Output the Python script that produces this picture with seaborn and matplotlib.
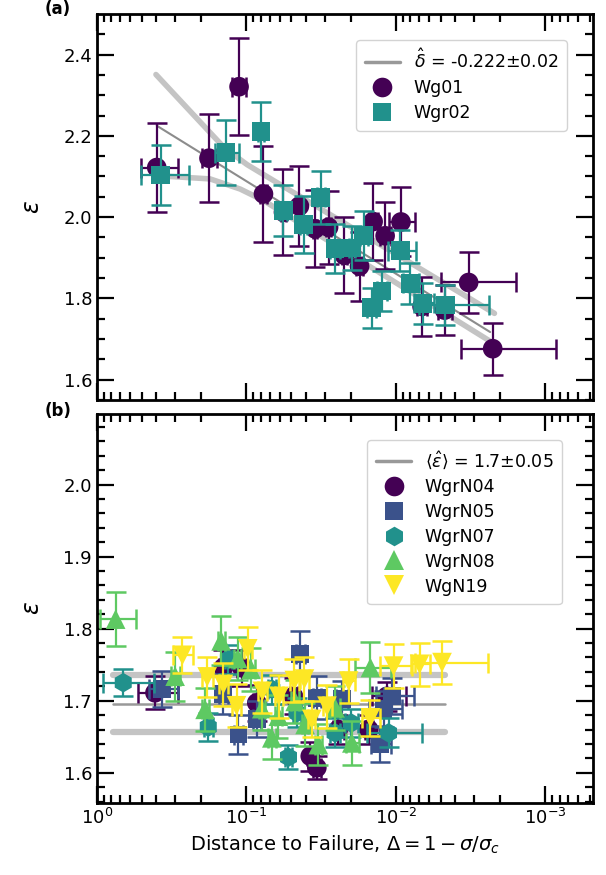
import numpy as np
import matplotlib
matplotlib.use("Agg")
import matplotlib.pyplot as plt
import seaborn as sns
from matplotlib.lines import Line2D

# ---------------- panel (a) data ----------------
wg01_d = [0.398, 0.178, 0.112, 0.0769, 0.0565, 0.0442, 0.0347, 0.0282, 0.0221,
          0.0175, 0.0142, 0.0118, 0.00924, 0.00668, 0.00472, 0.00326, 0.00225]
wg01_e = [2.122, 2.145, 2.321, 2.057, 2.012, 2.027, 1.971, 1.975, 1.906,
          1.879, 1.989, 1.954, 1.988, 1.780, 1.771, 1.839, 1.676]
wg01_xe = [0.11, 0.02, 0.012, 0.004, 0.002, 0.002, 0.001, 0.001, 0.001,
           0.001, 0.001, 0.001, 0.0018, 0.0005, 0.0005, 0.0017, 0.0014]
wg01_ye = [0.11, 0.108, 0.12, 0.118, 0.106, 0.098, 0.095, 0.09, 0.093,
           0.085, 0.094, 0.083, 0.085, 0.073, 0.062, 0.075, 0.064]

wgr02_d = [0.374, 0.137, 0.080, 0.0565, 0.0415, 0.0318, 0.0255, 0.0197,
           0.0164, 0.00935, 0.0124, 0.0145, 0.0080, 0.00659, 0.00467]
wgr02_e = [2.104, 2.159, 2.210, 2.016, 1.981, 2.049, 1.922, 1.924,
           1.954, 1.917, 1.818, 1.777, 1.837, 1.788, 1.784]
wgr02_xe = [0.13, 0.025, 0.004, 0.003, 0.002, 0.002, 0.002, 0.001,
            0.001, 0.002, 0.001, 0.001, 0.001, 0.001, 0.0023]
wgr02_ye = [0.074, 0.079, 0.073, 0.062, 0.07, 0.065, 0.06, 0.055,
            0.06, 0.05, 0.05, 0.049, 0.05, 0.05, 0.049]

# fit and its band
fit_d = [0.398, 0.00234]
fit_e = [2.225, 1.717]
band_hi_d = [0.403, 0.175, 0.140, 0.0988, 0.00219]
band_hi_e = [2.351, 2.208, 2.170, 2.129, 1.763]
band_lo_d = [0.398, 0.175, 0.110, 0.077, 0.00224]
band_lo_e = [2.102, 2.094, 2.069, 2.041, 1.690]

# ---------------- panel (b) data ----------------
n04_d = [0.409, 0.1426, 0.1074, 0.0852, 0.0484, 0.0374, 0.0338, 0.0243, 0.0152, 0.0115]
n04_e = [1.711, 1.746, 1.746, 1.697, 1.706, 1.623, 1.607, 1.660, 1.660, 1.706]
n04_xe = [0.12, 0.01, 0.008, 0.005, 0.003, 0.002, 0.002, 0.002, 0.001, 0.003]
n04_ye = [0.023, 0.025, 0.025, 0.025, 0.025, 0.02, 0.016, 0.02, 0.02, 0.02]

n05_d = [0.369, 0.1426, 0.113, 0.0852, 0.0437, 0.0338, 0.0230, 0.0127, 0.0121, 0.0106]
n05_e = [1.716, 1.709, 1.653, 1.674, 1.7645, 1.704, 1.702, 1.640, 1.688, 1.706]
n05_xe = [0.08, 0.01, 0.008, 0.005, 0.003, 0.002, 0.002, 0.002, 0.003, 0.003]
n05_ye = [0.025, 0.028, 0.027, 0.025, 0.032, 0.03, 0.025, 0.025, 0.025, 0.025]

n07_d = [0.667, 0.180, 0.132, 0.0676, 0.0523, 0.0459, 0.0255, 0.0199, 0.0112]
n07_e = [1.725, 1.6634, 1.7575, 1.716, 1.6216, 1.6832, 1.6553, 1.669, 1.6553]
n07_xe = [0.25, 0.012, 0.008, 0.004, 0.003, 0.003, 0.002, 0.002, 0.0045]
n07_ye = [0.019, 0.019, 0.02, 0.02, 0.017, 0.02, 0.02, 0.02, 0.02]

n08_d = [0.750, 0.300, 0.189, 0.1477, 0.1142, 0.0931, 0.0789, 0.0676,
         0.0611, 0.0472, 0.0405, 0.033, 0.0255, 0.0197, 0.0148]
n08_e = [1.8132, 1.734, 1.688, 1.783, 1.7585, 1.7436, 1.689, 1.6484,
         1.6785, 1.699, 1.667, 1.639, 1.690, 1.6414, 1.746]
n08_xe = [0.2, 0.02, 0.01, 0.008, 0.006, 0.005, 0.004, 0.004,
          0.003, 0.003, 0.002, 0.002, 0.002, 0.002, 0.004]
n08_ye = [0.037, 0.034, 0.03, 0.034, 0.03, 0.03, 0.03, 0.03,
          0.03, 0.03, 0.03, 0.028, 0.03, 0.03, 0.035]

n19_d = [0.268, 0.183, 0.1426, 0.1165, 0.098, 0.0782, 0.0606, 0.0478,
         0.0409, 0.0365, 0.0289, 0.0207, 0.0148, 0.01036, 0.00694, 0.00491]
n19_e = [1.763, 1.733, 1.7226, 1.693, 1.772, 1.713, 1.706, 1.728,
         1.730, 1.674, 1.6924, 1.7273, 1.6762, 1.748, 1.7505, 1.7529]
n19_xe = [0.04, 0.015, 0.01, 0.008, 0.006, 0.005, 0.004, 0.003,
          0.003, 0.002, 0.002, 0.002, 0.002, 0.0025, 0.001, 0.0025]
n19_ye = [0.025, 0.028, 0.03, 0.03, 0.03, 0.03, 0.03, 0.03,
          0.03, 0.025, 0.03, 0.03, 0.025, 0.03, 0.03, 0.03]

mean_d = [0.778, 0.00467]
mean_e = 1.696
mean_lo = 1.656
mean_hi = 1.735

# ---------------- style ----------------
sns.set_style("ticks")
plt.rcParams['font.family'] = ['DejaVu Sans']
plt.rcParams['mathtext.fontset'] = 'dejavusans'
for k in ['text.color', 'axes.labelcolor', 'xtick.color', 'ytick.color',
          'axes.edgecolor']:
    plt.rcParams[k] = 'black'

vir = sns.color_palette("viridis", as_cmap=True)
c_a = [vir(0.0), vir(0.5)]
c_b = [vir(0.0), vir(0.25), vir(0.5), vir(0.75), vir(1.0)]

fig = plt.figure(figsize=(6.06, 8.75), dpi=100)
ax1 = fig.add_axes([0.160, 0.543, 0.8185, 0.441])
ax2 = fig.add_axes([0.160, 0.0823, 0.8185, 0.4446], sharex=ax1)

MS = 200


def series(ax, d, e, xe, ye, color, marker, label, z, s=MS):
    ax.errorbar(d, e, xerr=xe, yerr=ye, fmt='none', ecolor=color,
                elinewidth=1.6, capsize=7, capthick=1.8, zorder=z)
    sns.scatterplot(x=d, y=e, color=color, marker=marker, s=s,
                    edgecolor='none', linewidth=0, ax=ax, zorder=z + 0.5)
    return Line2D([], [], color=color, marker=marker, linestyle='none',
                  markersize=np.sqrt(s), markeredgewidth=0, label=label)


# ---------------- (a) ----------------
sns.lineplot(x=band_hi_d, y=band_hi_e, color='#c4c4c4', lw=4, sort=False,
             estimator=None, ax=ax1, zorder=1)
sns.lineplot(x=band_lo_d, y=band_lo_e, color='#c4c4c4', lw=4, sort=False,
             estimator=None, ax=ax1, zorder=1)
sns.lineplot(x=fit_d, y=fit_e, color='#8c8c8c', lw=1.5, sort=False,
             estimator=None, ax=ax1, zorder=1.2)
h1 = series(ax1, wg01_d, wg01_e, wg01_xe, wg01_ye, c_a[0], 'o', 'Wg01', 2)
h2 = series(ax1, wgr02_d, wgr02_e, wgr02_xe, wgr02_ye, c_a[1], 's', 'Wgr02', 3, s=180)
hl = Line2D([], [], color='#999999', lw=2.5,
            label=r'$\hat{\delta}$ = -0.222$\pm$0.02')
ax1.legend(handles=[hl, h1, h2], loc='upper right', fontsize=12.5,
           frameon=True, edgecolor='#cccccc', framealpha=0.85,
           bbox_to_anchor=(0.965, 0.955), borderpad=0.5, labelspacing=0.4)

# ---------------- (b) ----------------
sns.lineplot(x=mean_d, y=[mean_hi] * 2, color='#c4c4c4', lw=4.5, ax=ax2, zorder=1)
sns.lineplot(x=mean_d, y=[mean_lo] * 2, color='#c4c4c4', lw=4.5, ax=ax2, zorder=1)
sns.lineplot(x=mean_d, y=[mean_e] * 2, color='#999999', lw=1.8, ax=ax2, zorder=1.2)
hb = [
    series(ax2, n04_d, n04_e, n04_xe, n04_ye, c_b[0], 'o', 'WgrN04', 2),
    series(ax2, n05_d, n05_e, n05_xe, n05_ye, c_b[1], 's', 'WgrN05', 3, s=165),
    series(ax2, n07_d, n07_e, n07_xe, n07_ye, c_b[2], 'h', 'WgrN07', 4),
    series(ax2, n08_d, n08_e, n08_xe, n08_ye, c_b[3], '^', 'WgrN08', 5),
    series(ax2, n19_d, n19_e, n19_xe, n19_ye, c_b[4], 'v', 'WgN19', 6),
]
hl2 = Line2D([], [], color='#999999', lw=2.5,
             label=r'$\langle\hat{\varepsilon}\rangle$ = 1.7$\pm$0.05')
ax2.legend(handles=[hl2] + hb, loc='upper right', fontsize=12.5,
           frameon=True, edgecolor='#cccccc', framealpha=0.85,
           bbox_to_anchor=(0.955, 0.955), borderpad=0.5, labelspacing=0.4)

# ---------------- axes ----------------
ax1.set_xscale('log')
ax1.set_xlim(1.0, 4.8e-4)
ax1.set_ylim(1.555, 2.50)
ax2.set_ylim(1.558, 2.098)
ax1.set_yticks([1.6, 1.8, 2.0, 2.2, 2.4])
ax1.set_yticks(np.arange(1.55, 2.5, 0.05), minor=True)
ax2.set_yticks([1.6, 1.7, 1.8, 1.9, 2.0])
ax2.set_yticks(np.arange(1.56, 2.1, 0.02), minor=True)

for ax in (ax1, ax2):
    ax.tick_params(which='both', direction='in', top=True, right=True,
                   labelsize=13, width=1.6)
    ax.tick_params(which='major', length=12)
    ax.tick_params(which='minor', length=6)
    for sp in ax.spines.values():
        sp.set_linewidth(2)
    ax.set_ylabel(r'$\varepsilon$', fontsize=17, labelpad=14)
    ax.set_xlabel('')

ax1.tick_params(labelbottom=False)
ax2.set_xlabel(r'Distance to Failure, $\Delta = 1 - \sigma/\sigma_c$', fontsize=14)

ax1.text(-0.079, 1.012, '(a)', transform=ax1.transAxes, fontsize=12,
         fontweight='bold', ha='center', va='center')
ax2.text(-0.079, 1.008, '(b)', transform=ax2.transAxes, fontsize=12,
         fontweight='bold', ha='center', va='center')

fig.savefig('out.png', dpi=100)
